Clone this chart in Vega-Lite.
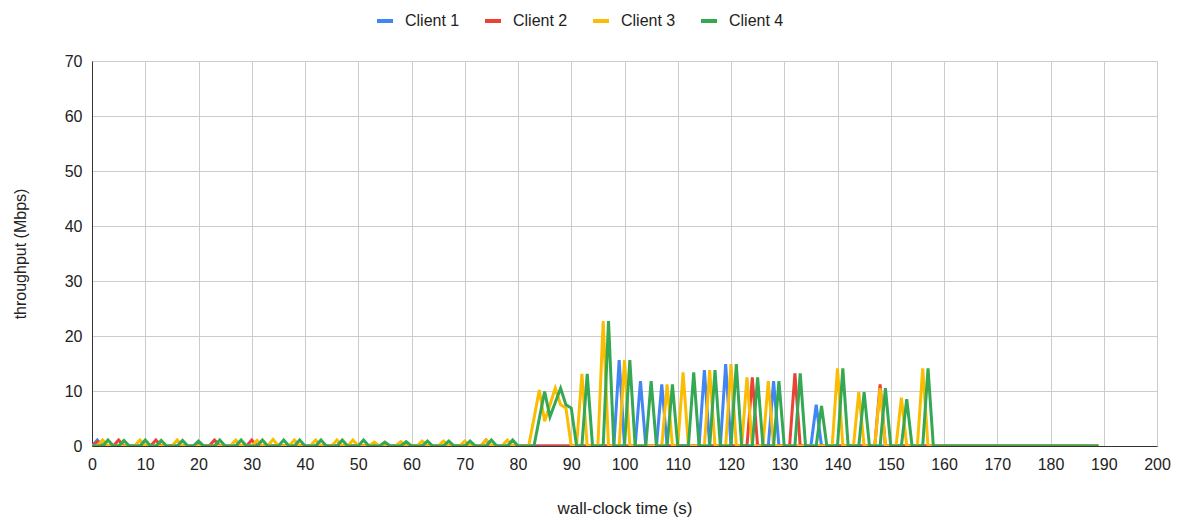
{
  "$schema": "https://vega.github.io/schema/vega-lite/v6.json",
  "width": 1065,
  "height": 385,
  "autosize": {"type": "none"},
  "padding": {"left": 92, "top": 61, "right": 23, "bottom": 75},
  "background": "white",
  "config": {
    "view": {"stroke": null},
    "font": "Liberation Sans",
    "axis": {
      "gridColor": "#cccccc",
      "gridWidth": 1,
      "domainColor": "#333333",
      "tickSize": 0,
      "labelFont": "Liberation Sans",
      "labelFontSize": 16,
      "labelColor": "#222222",
      "titleFont": "Liberation Sans",
      "titleFontSize": 16,
      "titleFontWeight": "normal",
      "titleColor": "#222222"
    },
    "legend": {
      "labelFont": "Liberation Sans",
      "labelFontSize": 16,
      "labelColor": "#222222"
    }
  },
  "data": {
    "values": [
      {"t": 0, "c": "Client 1", "v": 0}, {"t": 1, "c": "Client 1", "v": 1.1}, {"t": 2, "c": "Client 1", "v": 0},
      {"t": 98, "c": "Client 1", "v": 0}, {"t": 99, "c": "Client 1", "v": 15.6}, {"t": 100, "c": "Client 1", "v": 0},
      {"t": 102, "c": "Client 1", "v": 0}, {"t": 103, "c": "Client 1", "v": 11.8}, {"t": 104, "c": "Client 1", "v": 0},
      {"t": 106, "c": "Client 1", "v": 0}, {"t": 107, "c": "Client 1", "v": 11.2}, {"t": 108, "c": "Client 1", "v": 0},
      {"t": 114, "c": "Client 1", "v": 0}, {"t": 115, "c": "Client 1", "v": 13.8}, {"t": 116, "c": "Client 1", "v": 0},
      {"t": 118, "c": "Client 1", "v": 0}, {"t": 119, "c": "Client 1", "v": 14.9}, {"t": 120, "c": "Client 1", "v": 0},
      {"t": 127, "c": "Client 1", "v": 0}, {"t": 128, "c": "Client 1", "v": 11.8}, {"t": 129, "c": "Client 1", "v": 0},
      {"t": 135, "c": "Client 1", "v": 0}, {"t": 136, "c": "Client 1", "v": 7.5}, {"t": 137, "c": "Client 1", "v": 0},
      {"t": 189, "c": "Client 1", "v": 0},

      {"t": 0, "c": "Client 2", "v": 0}, {"t": 1, "c": "Client 2", "v": 0.8}, {"t": 2, "c": "Client 2", "v": 0},
      {"t": 4, "c": "Client 2", "v": 0}, {"t": 5, "c": "Client 2", "v": 1.1}, {"t": 6, "c": "Client 2", "v": 0},
      {"t": 11, "c": "Client 2", "v": 0}, {"t": 12, "c": "Client 2", "v": 1.1}, {"t": 13, "c": "Client 2", "v": 0},
      {"t": 22, "c": "Client 2", "v": 0}, {"t": 23, "c": "Client 2", "v": 1.1}, {"t": 24, "c": "Client 2", "v": 0},
      {"t": 29, "c": "Client 2", "v": 0}, {"t": 30, "c": "Client 2", "v": 1.1}, {"t": 31, "c": "Client 2", "v": 0},
      {"t": 73, "c": "Client 2", "v": 0}, {"t": 74, "c": "Client 2", "v": 1.1}, {"t": 75, "c": "Client 2", "v": 0},
      {"t": 123, "c": "Client 2", "v": 0}, {"t": 124, "c": "Client 2", "v": 12.5}, {"t": 125, "c": "Client 2", "v": 0},
      {"t": 131, "c": "Client 2", "v": 0}, {"t": 132, "c": "Client 2", "v": 13.2}, {"t": 133, "c": "Client 2", "v": 0},
      {"t": 147, "c": "Client 2", "v": 0}, {"t": 148, "c": "Client 2", "v": 11.2}, {"t": 149, "c": "Client 2", "v": 0},
      {"t": 189, "c": "Client 2", "v": 0},

      {"t": 0, "c": "Client 3", "v": 0}, {"t": 1, "c": "Client 3", "v": 0}, {"t": 2, "c": "Client 3", "v": 1.1}, {"t": 3, "c": "Client 3", "v": 0},
      {"t": 8, "c": "Client 3", "v": 0}, {"t": 9, "c": "Client 3", "v": 1.1}, {"t": 10, "c": "Client 3", "v": 0},
      {"t": 15, "c": "Client 3", "v": 0}, {"t": 16, "c": "Client 3", "v": 1.1}, {"t": 17, "c": "Client 3", "v": 0},
      {"t": 26, "c": "Client 3", "v": 0}, {"t": 27, "c": "Client 3", "v": 1.1}, {"t": 28, "c": "Client 3", "v": 0},
      {"t": 30, "c": "Client 3", "v": 0}, {"t": 31, "c": "Client 3", "v": 1.0}, {"t": 32, "c": "Client 3", "v": 0},
      {"t": 33, "c": "Client 3", "v": 0}, {"t": 34, "c": "Client 3", "v": 1.2}, {"t": 35, "c": "Client 3", "v": 0},
      {"t": 37, "c": "Client 3", "v": 0}, {"t": 38, "c": "Client 3", "v": 1.1}, {"t": 39, "c": "Client 3", "v": 0},
      {"t": 41, "c": "Client 3", "v": 0}, {"t": 42, "c": "Client 3", "v": 1.1}, {"t": 43, "c": "Client 3", "v": 0},
      {"t": 45, "c": "Client 3", "v": 0}, {"t": 46, "c": "Client 3", "v": 1.1}, {"t": 47, "c": "Client 3", "v": 0},
      {"t": 48, "c": "Client 3", "v": 0}, {"t": 49, "c": "Client 3", "v": 1.1}, {"t": 50, "c": "Client 3", "v": 0},
      {"t": 52, "c": "Client 3", "v": 0}, {"t": 53, "c": "Client 3", "v": 0.7}, {"t": 54, "c": "Client 3", "v": 0},
      {"t": 57, "c": "Client 3", "v": 0}, {"t": 58, "c": "Client 3", "v": 0.8}, {"t": 59, "c": "Client 3", "v": 0},
      {"t": 61, "c": "Client 3", "v": 0}, {"t": 62, "c": "Client 3", "v": 0.9}, {"t": 63, "c": "Client 3", "v": 0},
      {"t": 65, "c": "Client 3", "v": 0}, {"t": 66, "c": "Client 3", "v": 0.9}, {"t": 67, "c": "Client 3", "v": 0},
      {"t": 69, "c": "Client 3", "v": 0}, {"t": 70, "c": "Client 3", "v": 0.9}, {"t": 71, "c": "Client 3", "v": 0},
      {"t": 73, "c": "Client 3", "v": 0}, {"t": 74, "c": "Client 3", "v": 1.1}, {"t": 75, "c": "Client 3", "v": 0},
      {"t": 77, "c": "Client 3", "v": 0}, {"t": 78, "c": "Client 3", "v": 1.1}, {"t": 79, "c": "Client 3", "v": 0},
      {"t": 82, "c": "Client 3", "v": 0}, {"t": 83, "c": "Client 3", "v": 5}, {"t": 84, "c": "Client 3", "v": 10.2},
      {"t": 85, "c": "Client 3", "v": 4.5}, {"t": 86, "c": "Client 3", "v": 7.5}, {"t": 87, "c": "Client 3", "v": 10.5},
      {"t": 88, "c": "Client 3", "v": 7.5}, {"t": 89, "c": "Client 3", "v": 6.9}, {"t": 90, "c": "Client 3", "v": 0},
      {"t": 91, "c": "Client 3", "v": 0}, {"t": 92, "c": "Client 3", "v": 13.1}, {"t": 93, "c": "Client 3", "v": 0},
      {"t": 95, "c": "Client 3", "v": 0}, {"t": 96, "c": "Client 3", "v": 22.7}, {"t": 97, "c": "Client 3", "v": 0},
      {"t": 99, "c": "Client 3", "v": 0}, {"t": 100, "c": "Client 3", "v": 15.6}, {"t": 101, "c": "Client 3", "v": 0},
      {"t": 107, "c": "Client 3", "v": 0}, {"t": 108, "c": "Client 3", "v": 11.2}, {"t": 109, "c": "Client 3", "v": 0},
      {"t": 110, "c": "Client 3", "v": 0}, {"t": 111, "c": "Client 3", "v": 13.4}, {"t": 112, "c": "Client 3", "v": 0},
      {"t": 115, "c": "Client 3", "v": 0}, {"t": 116, "c": "Client 3", "v": 13.8}, {"t": 117, "c": "Client 3", "v": 0},
      {"t": 119, "c": "Client 3", "v": 0}, {"t": 120, "c": "Client 3", "v": 14.9}, {"t": 121, "c": "Client 3", "v": 0},
      {"t": 122, "c": "Client 3", "v": 0}, {"t": 123, "c": "Client 3", "v": 12.5}, {"t": 124, "c": "Client 3", "v": 0},
      {"t": 126, "c": "Client 3", "v": 0}, {"t": 127, "c": "Client 3", "v": 11.8}, {"t": 128, "c": "Client 3", "v": 0},
      {"t": 139, "c": "Client 3", "v": 0}, {"t": 140, "c": "Client 3", "v": 14.1}, {"t": 141, "c": "Client 3", "v": 0},
      {"t": 143, "c": "Client 3", "v": 0}, {"t": 144, "c": "Client 3", "v": 9.8}, {"t": 145, "c": "Client 3", "v": 0},
      {"t": 147, "c": "Client 3", "v": 0}, {"t": 148, "c": "Client 3", "v": 10.5}, {"t": 149, "c": "Client 3", "v": 0},
      {"t": 151, "c": "Client 3", "v": 0}, {"t": 152, "c": "Client 3", "v": 8.8}, {"t": 153, "c": "Client 3", "v": 0},
      {"t": 155, "c": "Client 3", "v": 0}, {"t": 156, "c": "Client 3", "v": 14.1}, {"t": 157, "c": "Client 3", "v": 0},
      {"t": 189, "c": "Client 3", "v": 0},

      {"t": 0, "c": "Client 4", "v": 0}, {"t": 2, "c": "Client 4", "v": 0}, {"t": 3, "c": "Client 4", "v": 1.1}, {"t": 4, "c": "Client 4", "v": 0},
      {"t": 5, "c": "Client 4", "v": 0}, {"t": 6, "c": "Client 4", "v": 1.0}, {"t": 7, "c": "Client 4", "v": 0},
      {"t": 9, "c": "Client 4", "v": 0}, {"t": 10, "c": "Client 4", "v": 1.1}, {"t": 11, "c": "Client 4", "v": 0},
      {"t": 12, "c": "Client 4", "v": 0}, {"t": 13, "c": "Client 4", "v": 1.0}, {"t": 14, "c": "Client 4", "v": 0},
      {"t": 16, "c": "Client 4", "v": 0}, {"t": 17, "c": "Client 4", "v": 1.0}, {"t": 18, "c": "Client 4", "v": 0},
      {"t": 19, "c": "Client 4", "v": 0}, {"t": 20, "c": "Client 4", "v": 0.9}, {"t": 21, "c": "Client 4", "v": 0},
      {"t": 23, "c": "Client 4", "v": 0}, {"t": 24, "c": "Client 4", "v": 1.1}, {"t": 25, "c": "Client 4", "v": 0},
      {"t": 27, "c": "Client 4", "v": 0}, {"t": 28, "c": "Client 4", "v": 1.1}, {"t": 29, "c": "Client 4", "v": 0},
      {"t": 31, "c": "Client 4", "v": 0}, {"t": 32, "c": "Client 4", "v": 1.1}, {"t": 33, "c": "Client 4", "v": 0},
      {"t": 35, "c": "Client 4", "v": 0}, {"t": 36, "c": "Client 4", "v": 1.1}, {"t": 37, "c": "Client 4", "v": 0},
      {"t": 38, "c": "Client 4", "v": 0}, {"t": 39, "c": "Client 4", "v": 1.1}, {"t": 40, "c": "Client 4", "v": 0},
      {"t": 42, "c": "Client 4", "v": 0}, {"t": 43, "c": "Client 4", "v": 1.1}, {"t": 44, "c": "Client 4", "v": 0},
      {"t": 46, "c": "Client 4", "v": 0}, {"t": 47, "c": "Client 4", "v": 1.1}, {"t": 48, "c": "Client 4", "v": 0},
      {"t": 50, "c": "Client 4", "v": 0}, {"t": 51, "c": "Client 4", "v": 1.1}, {"t": 52, "c": "Client 4", "v": 0},
      {"t": 54, "c": "Client 4", "v": 0}, {"t": 55, "c": "Client 4", "v": 0.7}, {"t": 56, "c": "Client 4", "v": 0},
      {"t": 58, "c": "Client 4", "v": 0}, {"t": 59, "c": "Client 4", "v": 0.8}, {"t": 60, "c": "Client 4", "v": 0},
      {"t": 62, "c": "Client 4", "v": 0}, {"t": 63, "c": "Client 4", "v": 0.9}, {"t": 64, "c": "Client 4", "v": 0},
      {"t": 66, "c": "Client 4", "v": 0}, {"t": 67, "c": "Client 4", "v": 0.9}, {"t": 68, "c": "Client 4", "v": 0},
      {"t": 70, "c": "Client 4", "v": 0}, {"t": 71, "c": "Client 4", "v": 0.9}, {"t": 72, "c": "Client 4", "v": 0},
      {"t": 74, "c": "Client 4", "v": 0}, {"t": 75, "c": "Client 4", "v": 1.1}, {"t": 76, "c": "Client 4", "v": 0},
      {"t": 78, "c": "Client 4", "v": 0}, {"t": 79, "c": "Client 4", "v": 1.1}, {"t": 80, "c": "Client 4", "v": 0},
      {"t": 83, "c": "Client 4", "v": 0}, {"t": 84, "c": "Client 4", "v": 5}, {"t": 85, "c": "Client 4", "v": 9.9},
      {"t": 86, "c": "Client 4", "v": 5.3}, {"t": 87, "c": "Client 4", "v": 7.9}, {"t": 88, "c": "Client 4", "v": 10.5},
      {"t": 89, "c": "Client 4", "v": 7.5}, {"t": 90, "c": "Client 4", "v": 6.9}, {"t": 91, "c": "Client 4", "v": 0},
      {"t": 92, "c": "Client 4", "v": 0}, {"t": 93, "c": "Client 4", "v": 13.1}, {"t": 94, "c": "Client 4", "v": 0},
      {"t": 96, "c": "Client 4", "v": 0}, {"t": 97, "c": "Client 4", "v": 22.7}, {"t": 98, "c": "Client 4", "v": 0},
      {"t": 100, "c": "Client 4", "v": 0}, {"t": 101, "c": "Client 4", "v": 15.6}, {"t": 102, "c": "Client 4", "v": 0},
      {"t": 104, "c": "Client 4", "v": 0}, {"t": 105, "c": "Client 4", "v": 11.8}, {"t": 106, "c": "Client 4", "v": 0},
      {"t": 108, "c": "Client 4", "v": 0}, {"t": 109, "c": "Client 4", "v": 11.2}, {"t": 110, "c": "Client 4", "v": 0},
      {"t": 112, "c": "Client 4", "v": 0}, {"t": 113, "c": "Client 4", "v": 13.4}, {"t": 114, "c": "Client 4", "v": 0},
      {"t": 116, "c": "Client 4", "v": 0}, {"t": 117, "c": "Client 4", "v": 13.8}, {"t": 118, "c": "Client 4", "v": 0},
      {"t": 120, "c": "Client 4", "v": 0}, {"t": 121, "c": "Client 4", "v": 14.9}, {"t": 122, "c": "Client 4", "v": 0},
      {"t": 124, "c": "Client 4", "v": 0}, {"t": 125, "c": "Client 4", "v": 12.5}, {"t": 126, "c": "Client 4", "v": 0},
      {"t": 128, "c": "Client 4", "v": 0}, {"t": 129, "c": "Client 4", "v": 11.8}, {"t": 130, "c": "Client 4", "v": 0},
      {"t": 132, "c": "Client 4", "v": 0}, {"t": 133, "c": "Client 4", "v": 13.2}, {"t": 134, "c": "Client 4", "v": 0},
      {"t": 136, "c": "Client 4", "v": 0}, {"t": 137, "c": "Client 4", "v": 7.3}, {"t": 138, "c": "Client 4", "v": 0},
      {"t": 140, "c": "Client 4", "v": 0}, {"t": 141, "c": "Client 4", "v": 14.1}, {"t": 142, "c": "Client 4", "v": 0},
      {"t": 144, "c": "Client 4", "v": 0}, {"t": 145, "c": "Client 4", "v": 9.8}, {"t": 146, "c": "Client 4", "v": 0},
      {"t": 148, "c": "Client 4", "v": 0}, {"t": 149, "c": "Client 4", "v": 10.5}, {"t": 150, "c": "Client 4", "v": 0},
      {"t": 152, "c": "Client 4", "v": 0}, {"t": 153, "c": "Client 4", "v": 8.5}, {"t": 154, "c": "Client 4", "v": 0},
      {"t": 156, "c": "Client 4", "v": 0}, {"t": 157, "c": "Client 4", "v": 14.1}, {"t": 158, "c": "Client 4", "v": 0},
      {"t": 189, "c": "Client 4", "v": 0}
    ]
  },
  "mark": {"type": "line", "strokeWidth": 3, "clip": true},
  "encoding": {
    "x": {
      "field": "t",
      "type": "quantitative",
      "scale": {"domain": [0, 200], "nice": false, "zero": false},
      "axis": {
        "values": [0, 10, 20, 30, 40, 50, 60, 70, 80, 90, 100, 110, 120, 130, 140, 150, 160, 170, 180, 190, 200],
        "title": "wall-clock time (s)",
        "titleFontSize": 17,
        "labelPadding": 10,
        "titlePadding": 28,
        "labelOverlap": false,
        "labelFlush": false
      }
    },
    "y": {
      "field": "v",
      "type": "quantitative",
      "scale": {"domain": [0, 70], "nice": false},
      "axis": {
        "values": [0, 10, 20, 30, 40, 50, 60, 70],
        "title": "throughput (Mbps)",
        "labelPadding": 10,
        "titlePadding": 36,
        "labelFlush": false
      }
    },
    "color": {
      "field": "c",
      "type": "nominal",
      "scale": {
        "domain": ["Client 1", "Client 2", "Client 3", "Client 4"],
        "range": ["#4285f4", "#ea4335", "#fbbc04", "#34a853"]
      },
      "legend": {
        "title": null,
        "orient": "none",
        "direction": "horizontal",
        "legendX": 283,
        "legendY": -50,
        "symbolType": "stroke",
        "symbolSize": 256,
        "symbolStrokeWidth": 4,
        "labelOffset": 10,
        "columnPadding": 17
      }
    }
  }
}
